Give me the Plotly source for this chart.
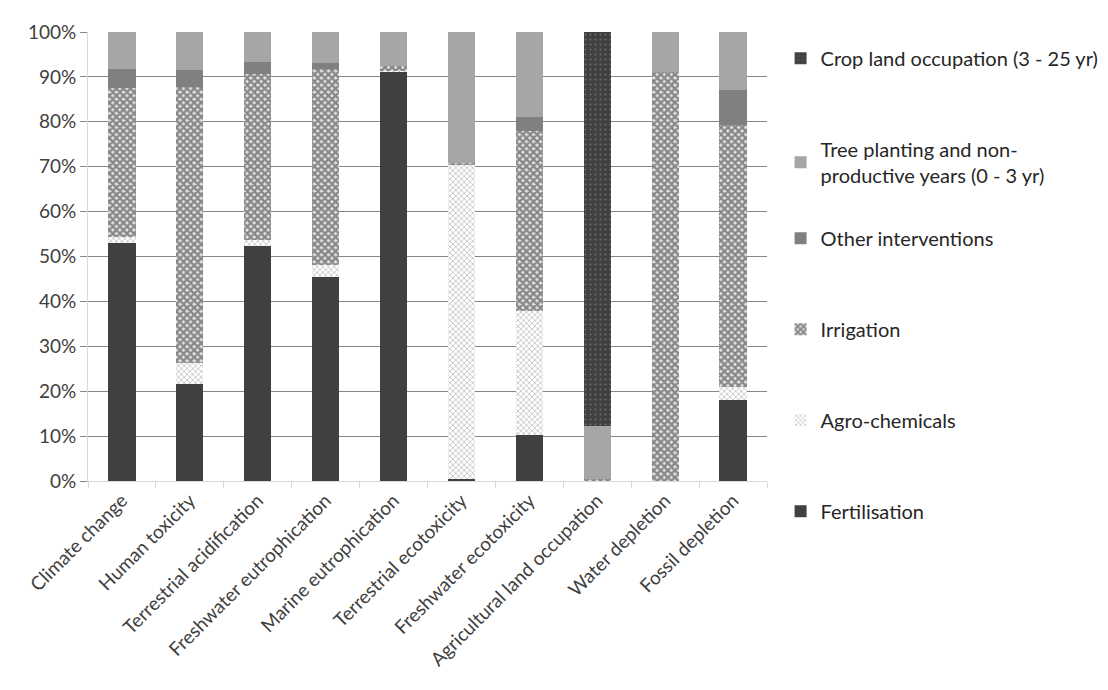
import plotly.graph_objects as go

categories = ["Climate change", "Human toxicity", "Terrestrial acidification",
              "Freshwater eutrophication", "Marine eutrophication",
              "Terrestrial ecotoxicity", "Freshwater ecotoxicity",
              "Agricultural land occupation", "Water depletion", "Fossil depletion"]

fertilisation = [52.9, 21.7, 52.3, 45.5, 91.2, 0.4, 10.3, 0.0, 0.0, 18.1]
agro_chemicals = [1.4, 4.6, 1.3, 2.5, 0.2, 70.0, 27.5, 0.0, 0.0, 2.8]
irrigation = [33.2, 61.4, 37.1, 43.8, 1.0, 0.4, 40.2, 0.5, 91.1, 58.3]
other_interventions = [4.3, 3.9, 2.7, 1.3, 0.0, 0.0, 3.1, 0.0, 0.0, 7.9]
tree_planting = [8.2, 8.4, 6.6, 6.9, 7.6, 29.2, 18.9, 11.8, 8.9, 12.9]
crop_land = [0.0, 0.0, 0.0, 0.0, 0.0, 0.0, 0.0, 87.7, 0.0, 0.0]

yticks = [0, 10, 20, 30, 40, 50, 60, 70, 80, 90, 100]
ytick_labels = [f"{v}%" for v in yticks]

# (name, values, marker, legend id)
series = [
    ("Fertilisation", fertilisation, dict(color="#404040"), "legend2"),
    ("Agro-chemicals", agro_chemicals,
     dict(color="white", pattern=dict(shape="x", fgcolor="#7a7a7a", bgcolor="white", size=4, solidity=0.35)),
     "legend2"),
    ("Irrigation", irrigation,
     dict(color="#404040", pattern=dict(shape="x", fgcolor="#2e2e2e", bgcolor="#e0e0e0", size=5, solidity=0.7)),
     "legend2"),
    ("Other interventions", other_interventions, dict(color="#808080"), "legend2"),
    ("Tree planting and non-<br>productive years (0 - 3 yr)", tree_planting, dict(color="#a6a6a6"), "legend"),
    ("Crop land occupation (3 - 25 yr)", crop_land,
     dict(color="#404040", pattern=dict(shape=".", fgcolor="#9a9a9a", bgcolor="#404040", size=5, solidity=0.12)),
     "legend"),
]

n = len(series)
fig = go.Figure()
for i, (name, vals, marker, leg) in enumerate(series):
    m = dict(marker)
    m["line"] = dict(width=0)
    fig.add_trace(go.Bar(x=categories, y=vals, name=name, marker=m, legend=leg,
                         legendgroup=f"g{i}", legendrank=(n - i) * 100))

font_family = "Lato, 'Open Sans', sans-serif"
legend_common = dict(traceorder="grouped", xanchor="left", yanchor="top",
                     tracegroupgap=62, font=dict(size=20, color="#262626"),
                     itemwidth=30, bgcolor="rgba(0,0,0,0)", maxheight=1.0)
fig.update_layout(
    width=1108, height=690,
    barmode="stack", bargap=0.6,
    plot_bgcolor="white", paper_bgcolor="white",
    margin=dict(l=80, r=346, t=24, b=217),
    font=dict(family=font_family, size=16, color="#404040"),
    showlegend=True,
    legend=dict(x=1.02, y=0.985, **legend_common),
    legend2=dict(x=1.02, y=0.584, **legend_common),
)
fig.update_xaxes(
    tickangle=-45, showline=True, linecolor="#d9d9d9", linewidth=1,
    ticks="outside", tickson="boundaries", ticklen=6, tickcolor="#d9d9d9",
    showgrid=False, tickfont=dict(size=19, color="#404040"),
)
fig.update_yaxes(
    range=[0, 100], tickvals=yticks, ticktext=ytick_labels,
    showgrid=True, gridcolor="#868686", gridwidth=1,
    showline=True, linecolor="#d9d9d9", linewidth=1,
    ticks="outside", ticklen=7, tickcolor="#868686",
    tickfont=dict(size=19, color="#404040"), zeroline=False,
)

fig.write_html("out.html")
